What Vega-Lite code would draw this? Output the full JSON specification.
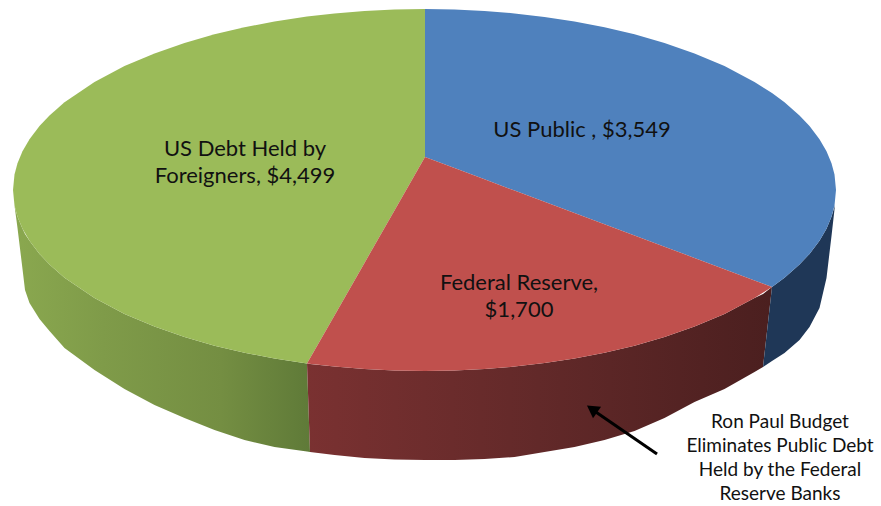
{"$schema":"https://vega.github.io/schema/vega-lite/v6.json","width":881,"height":506,"autosize":{"type":"none"},"padding":0,"background":"#ffffff","view":{"stroke":null},
"datasets":{
"greenTop":[{"x":13,"y":190,"y2":190},{"x":14.5,"y":174.6,"y2":205.4},{"x":17.5,"y":163.3,"y2":216.7},{"x":22.5,"y":151.3,"y2":228.7},{"x":29.5,"y":139.3,"y2":240.7},{"x":39.5,"y":126.1,"y2":253.9},{"x":49.5,"y":115.5,"y2":264.5},{"x":64.5,"y":102.3,"y2":277.7},{"x":94.5,"y":81.9,"y2":298.1},{"x":124.5,"y":66.1,"y2":313.9},{"x":154.5,"y":53.4,"y2":326.6},{"x":184.5,"y":43,"y2":337},{"x":214.5,"y":34.3,"y2":345.7},{"x":244.5,"y":27.2,"y2":352.8},{"x":274.5,"y":21.5,"y2":358.5},{"x":307,"y":16.5,"y2":363.5},{"x":334.5,"y":13.4,"y2":315.4},{"x":364.5,"y":10.9,"y2":262.9},{"x":394.5,"y":9.5,"y2":210.4},{"x":425,"y":9,"y2":157}],
"blueTop":[{"x":425,"y":9,"y2":157},{"x":454.5,"y":9.5,"y2":168.1},{"x":484.5,"y":10.9,"y2":179.3},{"x":514.5,"y":13.4,"y2":190.6},{"x":544.5,"y":16.9,"y2":201.8},{"x":574.5,"y":21.5,"y2":213},{"x":604.5,"y":27.2,"y2":224.2},{"x":634.5,"y":34.3,"y2":235.5},{"x":664.5,"y":43,"y2":246.7},{"x":694.5,"y":53.4,"y2":257.9},{"x":724.5,"y":66.1,"y2":269.2},{"x":754.5,"y":81.9,"y2":280.4},{"x":772,"y":93.1,"y2":287},{"x":784.5,"y":102.3,"y2":277.7},{"x":799.5,"y":115.5,"y2":264.5},{"x":809.5,"y":126.1,"y2":253.9},{"x":819.5,"y":139.3,"y2":240.7},{"x":826.5,"y":151.3,"y2":228.7},{"x":831.5,"y":163.3,"y2":216.7},{"x":834.5,"y":174.6,"y2":205.4},{"x":836,"y":190,"y2":190}],
"redTop":[{"x":307,"y":363.5,"y2":363.5},{"x":334.5,"y":315.4,"y2":366.6},{"x":364.5,"y":262.9,"y2":369.1},{"x":394.5,"y":210.4,"y2":370.5},{"x":425,"y":157,"y2":371},{"x":454.5,"y":168.1,"y2":370.5},{"x":484.5,"y":179.3,"y2":369.1},{"x":514.5,"y":190.6,"y2":366.6},{"x":544.5,"y":201.8,"y2":363.1},{"x":574.5,"y":213,"y2":358.5},{"x":604.5,"y":224.2,"y2":352.8},{"x":634.5,"y":235.5,"y2":345.7},{"x":664.5,"y":246.7,"y2":337},{"x":694.5,"y":257.9,"y2":326.6},{"x":724.5,"y":269.2,"y2":313.9},{"x":754.5,"y":280.4,"y2":298.1},{"x":772,"y":287,"y2":287}],
"greenWall":[{"x":14.5,"y":205.4,"y2":205.4},{"x":17.5,"y":216.7,"y2":228},{"x":22.5,"y":228.7,"y2":269},{"x":25,"y":234,"y2":290},{"x":29.5,"y":240.7,"y2":303},{"x":39.5,"y":253.9,"y2":319},{"x":49.5,"y":264.5,"y2":331},{"x":64.5,"y":277.7,"y2":348},{"x":94.5,"y":298.1,"y2":370},{"x":124.5,"y":313.9,"y2":389},{"x":154.5,"y":326.6,"y2":405},{"x":184.5,"y":337,"y2":418},{"x":214.5,"y":345.7,"y2":430},{"x":244.5,"y":352.8,"y2":440},{"x":274.5,"y":358.5,"y2":447},{"x":307,"y":363.5,"y2":451.5},{"x":310,"y":452,"y2":452}],
"redWall":[{"x":307,"y":363.5,"y2":363.5},{"x":310,"y":364,"y2":452},{"x":334.5,"y":366.6,"y2":455},{"x":364.5,"y":369.1,"y2":458},{"x":394.5,"y":370.5,"y2":459.5},{"x":425,"y":371,"y2":460},{"x":454.5,"y":370.5,"y2":460},{"x":484.5,"y":369.1,"y2":459},{"x":514.5,"y":366.6,"y2":457},{"x":544.5,"y":363.1,"y2":452},{"x":574.5,"y":358.5,"y2":447},{"x":604.5,"y":352.8,"y2":440},{"x":634.5,"y":345.7,"y2":431},{"x":664.5,"y":337,"y2":418},{"x":694.5,"y":326.6,"y2":402},{"x":724.5,"y":313.9,"y2":389},{"x":754.5,"y":298.1,"y2":372},{"x":763,"y":293.9,"y2":367},{"x":772,"y":287,"y2":287}],
"blueWall":[{"x":763,"y":367,"y2":367},{"x":772,"y":287,"y2":361},{"x":784.5,"y":277.7,"y2":353},{"x":799.5,"y":264.5,"y2":340},{"x":809.5,"y":253.9,"y2":327},{"x":819.5,"y":240.7,"y2":308},{"x":826.5,"y":228.7,"y2":278},{"x":831.5,"y":216.7,"y2":236},{"x":835,"y":205,"y2":205}],
"labels":[{"x":245,"y":149,"label":"US Debt Held by\nForeigners, $4,499"},{"x":582,"y":130,"label":"US Public , $3,549"},{"x":519,"y":283,"label":"Federal Reserve,\n$1,700"}],
"note":[{"x":780,"y":422,"label":"Ron Paul Budget\nEliminates Public Debt\nHeld by the Federal\nReserve Banks"}],
"arrow":[{"x":657,"y":454,"x2":590,"y2":408}],
"arrowHead":[{"x":592,"y":409}]
},
"encoding":{"x":{"field":"x","type":"quantitative","scale":{"domain":[0,881],"nice":false,"zero":false},"axis":null},"y":{"field":"y","type":"quantitative","scale":{"domain":[506,0],"nice":false,"zero":false},"axis":null}},
"layer":[
{"data":{"name":"greenWall"},"mark":{"type":"area","orient":"vertical","color":{"gradient":"linear","x1":0,"y1":0,"x2":1,"y2":0,"stops":[{"offset":0,"color":"#8aa84f"},{"offset":0.3,"color":"#7f9b49"},{"offset":0.7,"color":"#748e42"},{"offset":1,"color":"#5f7a38"}]}},"encoding":{"y2":{"field":"y2"}}},
{"data":{"name":"redWall"},"mark":{"type":"area","orient":"vertical","color":{"gradient":"linear","x1":0,"y1":0,"x2":1,"y2":0,"stops":[{"offset":0,"color":"#7a3131"},{"offset":0.5,"color":"#622929"},{"offset":1,"color":"#4b1f1f"}]}},"encoding":{"y2":{"field":"y2"}}},
{"data":{"name":"blueWall"},"mark":{"type":"area","orient":"vertical","color":"#1f3757"},"encoding":{"y2":{"field":"y2"}}},
{"data":{"name":"greenTop"},"mark":{"type":"area","orient":"vertical","color":"#9bbb59"},"encoding":{"y2":{"field":"y2"}}},
{"data":{"name":"blueTop"},"mark":{"type":"area","orient":"vertical","color":"#4f81bd"},"encoding":{"y2":{"field":"y2"}}},
{"data":{"name":"redTop"},"mark":{"type":"area","orient":"vertical","color":"#c0504d"},"encoding":{"y2":{"field":"y2"}}},
{"data":{"name":"arrow"},"mark":{"type":"rule","color":"#000000","strokeWidth":3},"encoding":{"x2":{"field":"x2"},"y2":{"field":"y2"}}},
{"data":{"name":"arrowHead"},"mark":{"type":"point","shape":"triangle-up","filled":true,"color":"#000000","opacity":1,"size":200,"angle":304.6},"encoding":{}},
{"data":{"name":"labels"},"mark":{"type":"text","font":"Lato","fontSize":22,"color":"#111111","align":"center","baseline":"middle","lineBreak":"\n","lineHeight":27},"encoding":{"text":{"field":"label"}}},
{"data":{"name":"note"},"mark":{"type":"text","font":"Lato","fontSize":19,"color":"#111111","align":"center","baseline":"middle","lineBreak":"\n","lineHeight":24},"encoding":{"text":{"field":"label"}}}
]}
